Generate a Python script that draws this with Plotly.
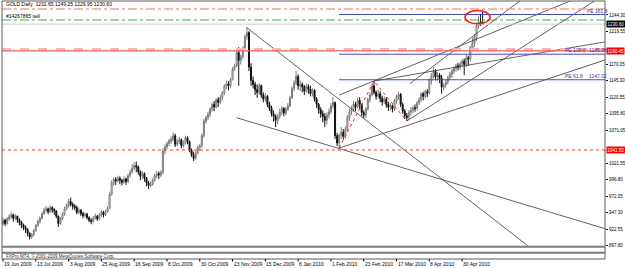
import plotly.graph_objects as go

# ---------------- data (bar index 0 = 19 Jun 2009, daily GOLD) ----------------
open_ = [930, 936, 931, 938, 941, 944, 939, 942, 937, 933,
         929, 925, 922, 916, 911, 914, 920, 928, 934, 939,
         946, 951, 953, 949, 955, 952, 950, 942, 931, 938,
         945, 953, 958, 964, 960, 957, 955, 948, 951, 946,
         943, 945, 940, 936, 934, 939, 942, 938, 944, 948,
         944, 949, 954, 975, 992, 997, 995, 999, 996, 993,
         998, 994, 1003, 1008, 1014, 1018, 1016, 1009, 1002, 1006,
         999, 992, 988, 990, 996, 1003, 1006, 1004, 1008, 1040,
         1046, 1051, 1055, 1058, 1063, 1050, 1054, 1057, 1048, 1052,
         1060, 1054, 1041, 1034, 1029, 1037, 1045, 1048, 1063, 1085,
         1090, 1095, 1103, 1110, 1106, 1117, 1113, 1120, 1127, 1138,
         1141, 1138, 1147, 1163, 1168, 1188, 1176, 1181, 1194, 1212,
         1218, 1166, 1146, 1140, 1132, 1128, 1138, 1124, 1118, 1122,
         1110, 1104, 1096, 1092, 1086, 1092, 1098, 1104, 1097, 1103,
         1108, 1120, 1134, 1142, 1152, 1138, 1140, 1136, 1130, 1137,
         1133, 1126, 1131, 1118, 1110, 1102, 1096, 1092, 1086, 1094,
         1099, 1108, 1113, 1063, 1052, 1064, 1068, 1062, 1072, 1090,
         1099, 1102, 1110, 1106, 1116, 1110, 1098, 1094, 1103, 1117,
         1124, 1138, 1128, 1122, 1126, 1119, 1114, 1118, 1110, 1106,
         1108, 1103, 1115, 1122, 1125, 1110, 1100, 1093, 1090, 1098,
         1101, 1105, 1104, 1112, 1117, 1126, 1122, 1129, 1127, 1146,
         1153, 1160, 1151, 1154, 1149, 1136, 1139, 1143, 1150, 1155,
         1160, 1164, 1168, 1166, 1171, 1175, 1170, 1180, 1178, 1195,
         1202, 1210, 1228, 1234, 1232.65]
high = [940, 938, 941, 945, 948, 946, 945, 943, 939, 935,
        931, 928, 924, 918, 917, 923, 930, 937, 942, 949,
        955, 957, 955, 958, 957, 954, 951, 943, 941, 948,
        956, 961, 968, 970, 963, 960, 958, 955, 953, 949,
        948, 947, 942, 939, 942, 946, 944, 947, 951, 950,
        952, 957, 979, 996, 1000, 1001, 1003, 1002, 998, 1002,
        1000, 1006, 1012, 1020, 1023, 1024, 1018, 1011, 1010, 1008,
        1001, 995, 994, 999, 1006, 1010, 1009, 1011, 1044, 1050,
        1054, 1058, 1062, 1068, 1066, 1058, 1061, 1059, 1056, 1063,
        1062, 1056, 1044, 1039, 1040, 1048, 1051, 1066, 1088, 1093,
        1099, 1106, 1113, 1115, 1119, 1121, 1124, 1130, 1140, 1146,
        1145, 1150, 1166, 1171, 1193, 1196, 1185, 1197, 1215, 1226,
        1220, 1172, 1152, 1144, 1140, 1142, 1140, 1128, 1127, 1124,
        1114, 1108, 1101, 1095, 1096, 1103, 1108, 1106, 1106, 1112,
        1123, 1137, 1146, 1161, 1155, 1146, 1143, 1139, 1141, 1140,
        1138, 1134, 1133, 1121, 1112, 1106, 1101, 1097, 1098, 1104,
        1112, 1121, 1114, 1067, 1066, 1076, 1073, 1077, 1094, 1104,
        1108, 1115, 1114, 1120, 1121, 1111, 1101, 1106, 1120, 1128,
        1141, 1144.9, 1131, 1132, 1130, 1123, 1122, 1121, 1114, 1112,
        1110, 1118, 1125, 1129, 1127, 1113, 1103, 1097, 1101, 1106,
        1108, 1110, 1115, 1121, 1128, 1129, 1132, 1133, 1149, 1157,
        1166, 1163, 1158, 1157, 1154, 1142, 1147, 1153, 1159, 1163,
        1167, 1171, 1172, 1174, 1178, 1179, 1185, 1183, 1198, 1211,
        1216, 1233, 1242, 1246, 1249.25]
low = [928, 927, 929, 935, 938, 934, 936, 932, 928, 924,
       921, 917, 912, 907, 908, 912, 919, 926, 931, 937,
       944, 947, 945, 947, 947, 944, 939, 926, 929, 936,
       943, 951, 955, 957, 952, 951, 945, 945, 942, 939,
       940, 937, 933, 930, 932, 937, 935, 936, 941, 940,
       942, 947, 953, 973, 988, 989, 993, 990, 988, 991,
       989, 992, 1000, 1006, 1011, 1008, 1004, 996, 998, 994,
       987, 983, 985, 988, 994, 999, 998, 1001, 1005, 1035,
       1043, 1047, 1051, 1054, 1046, 1047, 1050, 1044, 1045, 1050,
       1050, 1038, 1031, 1025, 1027, 1035, 1040, 1045, 1060, 1081,
       1086, 1091, 1099, 1100, 1104, 1106, 1110, 1116, 1124, 1133,
       1131, 1134, 1146, 1160, 1166, 1138, 1170, 1179, 1193, 1207,
       1160, 1138, 1134, 1124, 1120, 1125, 1120, 1113, 1114, 1106,
       1100, 1092, 1084, 1076, 1080, 1088, 1094, 1092, 1094, 1100,
       1106, 1118, 1130, 1139, 1132, 1130, 1128, 1124, 1127, 1126,
       1122, 1122, 1114, 1105, 1096, 1090, 1083, 1076, 1080, 1089,
       1096, 1104, 1058, 1047, 1044.5, 1058, 1057, 1059, 1070, 1085,
       1094, 1099, 1100, 1104, 1103, 1092, 1089, 1090, 1101, 1113,
       1122, 1125, 1117, 1119, 1113, 1108, 1111, 1105, 1100, 1101,
       1098, 1100, 1111, 1117, 1106, 1096, 1088, 1085, 1087, 1093,
       1097, 1099, 1101, 1109, 1114, 1116, 1119, 1121, 1125, 1140,
       1149, 1146, 1146, 1142, 1126, 1131, 1135, 1140, 1146, 1150,
       1156, 1159, 1161, 1162, 1166, 1154, 1166, 1168, 1175, 1190,
       1196, 1205, 1224, 1228, 1229.95]
close = [936, 931, 938, 941, 944, 939, 942, 937, 933, 929,
         925, 922, 916, 911, 914, 920, 928, 934, 939, 946,
         951, 953, 949, 955, 952, 950, 942, 931, 938, 945,
         953, 958, 964, 960, 957, 955, 948, 951, 946, 943,
         945, 940, 936, 934, 939, 942, 938, 944, 948, 944,
         949, 954, 975, 992, 997, 995, 999, 996, 993, 998,
         994, 1003, 1008, 1014, 1018, 1016, 1009, 1002, 1006, 999,
         992, 988, 990, 996, 1003, 1006, 1004, 1008, 1040, 1046,
         1051, 1055, 1058, 1063, 1050, 1054, 1057, 1048, 1052, 1060,
         1054, 1041, 1034, 1029, 1037, 1045, 1048, 1063, 1085, 1090,
         1095, 1103, 1110, 1106, 1117, 1113, 1120, 1127, 1138, 1141,
         1138, 1147, 1163, 1168, 1188, 1176, 1181, 1194, 1212, 1218,
         1166, 1146, 1140, 1132, 1128, 1138, 1124, 1118, 1122, 1110,
         1104, 1096, 1092, 1086, 1092, 1098, 1104, 1097, 1103, 1108,
         1120, 1134, 1142, 1152, 1138, 1140, 1136, 1130, 1137, 1133,
         1126, 1131, 1118, 1110, 1102, 1096, 1092, 1086, 1094, 1099,
         1108, 1113, 1063, 1052, 1064, 1068, 1062, 1072, 1090, 1099,
         1102, 1110, 1106, 1116, 1110, 1098, 1094, 1103, 1117, 1124,
         1138, 1128, 1122, 1126, 1119, 1114, 1118, 1110, 1106, 1108,
         1103, 1115, 1122, 1125, 1110, 1100, 1093, 1090, 1098, 1101,
         1105, 1104, 1112, 1117, 1126, 1122, 1129, 1127, 1146, 1153,
         1160, 1151, 1154, 1149, 1136, 1139, 1143, 1150, 1155, 1160,
         1164, 1168, 1166, 1171, 1175, 1170, 1180, 1178, 1195, 1202,
         1210, 1228, 1234, 1233, 1230.60]
bar_idx = list(range(len(close)))

date_tick_idx = [0, 16, 32, 48, 64, 80, 96, 112, 128, 144, 160, 176, 192, 208, 224]
date_tick_labels = ["19 Jun 2009", "13 Jul 2009", "3 Aug 2009", "25 Aug 2009", "16 Sep 2009",
                    "8 Oct 2009", "30 Oct 2009", "23 Nov 2009", "15 Dec 2009", "8 Jan 2010",
                    "1 Feb 2010", "23 Feb 2010", "17 Mar 2010", "8 Apr 2010", "30 Apr 2010"]
# price scale labels (1194.80 and 1046.30 are hidden behind the red price boxes)
price_ticks = [897.80, 922.55, 947.30, 972.05, 996.80, 1021.55, 1071.05,
               1095.80, 1120.55, 1145.30, 1170.05, 1219.55, 1244.30]

x_range = [-0.5, 293.7]
y_range = [897.3, 1265.3]

# horizontal levels
level_top_pink = 1253.3
level_sell_order = 1236.8
level_bid = 1230.60
level_resist_pink = 1193.0
level_resist_red = 1190.45
level_support_red = 1041.53

# Fibonacci expansion (A-B-C) and its levels
fib_x = [164, 181, 197]
fib_y = [1044.5, 1144.9, 1085.0]
pe_prices = [1245.0, 1185.38, 1147.02]
pe_names = ["PE 161.8", "PE 100.0", "PE 61.8"]
pe_values = ["", "1185.38", "1147.02"]

# trend lines: start/end (bar index, price)
tl_x0 = [119, 114, 164, 164, 197, 198.5, 181]
tl_y0 = [1225.0, 1090.0, 1044.5, 1124.0, 1085.0, 1141.0, 1145.0]
tl_x1 = [258, 294, 294, 294, 294, 255, 294]
tl_y1 = [893.0, 923.0, 1177.0, 1287.0, 1276.0, 1272.0, 1204.0]

circle_x = [225.4, 237.6]
circle_y = [1231.0, 1251.0]

FONT = "Liberation Sans, Arial, sans-serif"
fig = go.Figure()

fig.add_trace(go.Candlestick(
    x=bar_idx, open=open_, high=high, low=low, close=close,
    increasing=dict(line=dict(color="#7a7a7a", width=1), fillcolor="#ffffff"),
    decreasing=dict(line=dict(color="#111111", width=1), fillcolor="#111111"),
    whiskerwidth=0, showlegend=False, hoverinfo="skip"))

for x0, y0, x1, y1 in zip(tl_x0, tl_y0, tl_x1, tl_y1):
    fig.add_trace(go.Scatter(x=[x0, x1], y=[y0, y1], mode="lines",
                             line=dict(color="#3a3a3a", width=0.8),
                             showlegend=False, hoverinfo="skip"))

fig.add_trace(go.Scatter(x=fib_x, y=fib_y, mode="lines",
                         line=dict(color="#ff2020", width=1, dash="dot"),
                         showlegend=False, hoverinfo="skip"))

shapes = []
def hline(y, color, width, dash="solid", x0=0, x1=1, xref="paper"):
    shapes.append(dict(type="line", xref=xref, yref="y", x0=x0, x1=x1, y0=y, y1=y,
                       line=dict(color=color, width=width, dash=dash), layer="above"))

hline(level_top_pink, "#f4a09a", 1.5, "dashdot")
hline(level_sell_order, "#3cb043", 1, "dashdot")
hline(level_bid, "#cccccc", 1)
hline(level_resist_pink, "#f8b8b8", 2.5, "dash")
hline(level_resist_red, "#f25a5a", 1.2)
hline(level_support_red, "#ff3030", 1, "dot")
for p in pe_prices:
    hline(p, "#4a4ac0", 1, "solid", fib_x[0], x_range[1], "x")

shapes.append(dict(type="circle", xref="x", yref="y", x0=circle_x[0], x1=circle_x[1],
                   y0=circle_y[0], y1=circle_y[1], line=dict(color="#ff1a1a", width=1.5)))

# frame and lower (sub-window) strip
py = lambda p: (246 - p) / 245.0
frame = "#5a5a5a"
shapes += [
    dict(type="line", xref="paper", yref="paper", x0=0, x1=0, y0=py(259), y1=1, line=dict(color=frame, width=1)),
    dict(type="line", xref="paper", yref="paper", x0=1, x1=1, y0=py(259), y1=1, line=dict(color=frame, width=1)),
    dict(type="line", xref="paper", yref="paper", x0=0, x1=1, y0=1, y1=1, line=dict(color=frame, width=1)),
    dict(type="line", xref="paper", yref="paper", x0=0, x1=1, y0=py(259), y1=py(259), line=dict(color=frame, width=1)),
    dict(type="line", xref="paper", yref="paper", x0=0, x1=1, y0=py(246.8), y1=py(246.8), line=dict(color="#7a7a7a", width=2)),
    dict(type="line", xref="paper", yref="paper", x0=0, x1=1, y0=py(252.8), y1=py(252.8), line=dict(color="#7a7a7a", width=2)),
]
for t in date_tick_idx:
    shapes.append(dict(type="line", xref="x", yref="paper", x0=t, x1=t, y0=py(259), y1=py(261.5),
                       line=dict(color="#000000", width=1)))

ann = []
small = dict(family=FONT, size=5, color="#000000")
for t, lab in zip(date_tick_idx, date_tick_labels):
    ann.append(dict(x=t, xref="x", y=py(263.5), yref="paper", text=lab, showarrow=False,
                    xanchor="left", yanchor="middle", font=small, xshift=-1))
ann.append(dict(x=0.004, xref="paper", y=py(4), yref="paper",
                text="GOLD,Daily  1232.65 1249.25 1229.95 1230.60", showarrow=False,
                xanchor="left", yanchor="middle", font=small))
ann.append(dict(x=0.004, xref="paper", y=py(16.5), yref="paper", text="#14267865 sell",
                showarrow=False, xanchor="left", yanchor="middle", font=small))
ann.append(dict(x=0.004, xref="paper", y=py(255.6), yref="paper",
                text="FXPro MT4, © 2001-2009 MetaQuotes Software Corp.", showarrow=False,
                xanchor="left", yanchor="middle", font=dict(family=FONT, size=4.5, color="#303030")))
pe_font = dict(family=FONT, size=5, color="#3232a8")
for p, n, v in zip(pe_prices, pe_names, pe_values):
    nx = 284 if v == "" else 273.2
    ann.append(dict(x=nx, xref="x", y=p, yref="y", text=n, showarrow=False,
                    xanchor="left", yanchor="bottom", font=pe_font, yshift=-1))
    if v:
        ann.append(dict(x=284.8, xref="x", y=p, yref="y", text=v, showarrow=False,
                        xanchor="left", yanchor="bottom", font=pe_font, yshift=-1))

box_font = dict(family=FONT, size=4.5, color="#ffffff")
for val, bg in [(level_bid, "#000000"), (level_resist_red, "#ff0000"), (level_support_red, "#ff0000")]:
    ann.append(dict(x=1, xref="paper", y=val, yref="y", text=f"{val:.2f}", showarrow=False,
                    xanchor="left", yanchor="middle", font=box_font, bgcolor=bg,
                    borderpad=0.5, xshift=1))

fig.update_layout(
    width=625, height=268,
    margin=dict(l=2, r=20, t=1, b=22),
    paper_bgcolor="#ffffff", plot_bgcolor="#ffffff",
    showlegend=False,
    shapes=shapes, annotations=ann,
    font=dict(family=FONT, size=5, color="#000000"),
    xaxis=dict(range=x_range, showgrid=False, zeroline=False, showticklabels=False,
               ticks="", rangeslider=dict(visible=False), fixedrange=True),
    yaxis=dict(range=y_range, side="right", showgrid=False, zeroline=False,
               tickvals=price_ticks, ticktext=[f"{v:.2f}" for v in price_ticks],
               ticks="outside", ticklen=2, tickwidth=1, tickcolor="#000000",
               ticklabelstandoff=0,
               tickfont=dict(family=FONT, size=4.5, color="#000000"), automargin=False),
)

fig.write_html("out.html")
